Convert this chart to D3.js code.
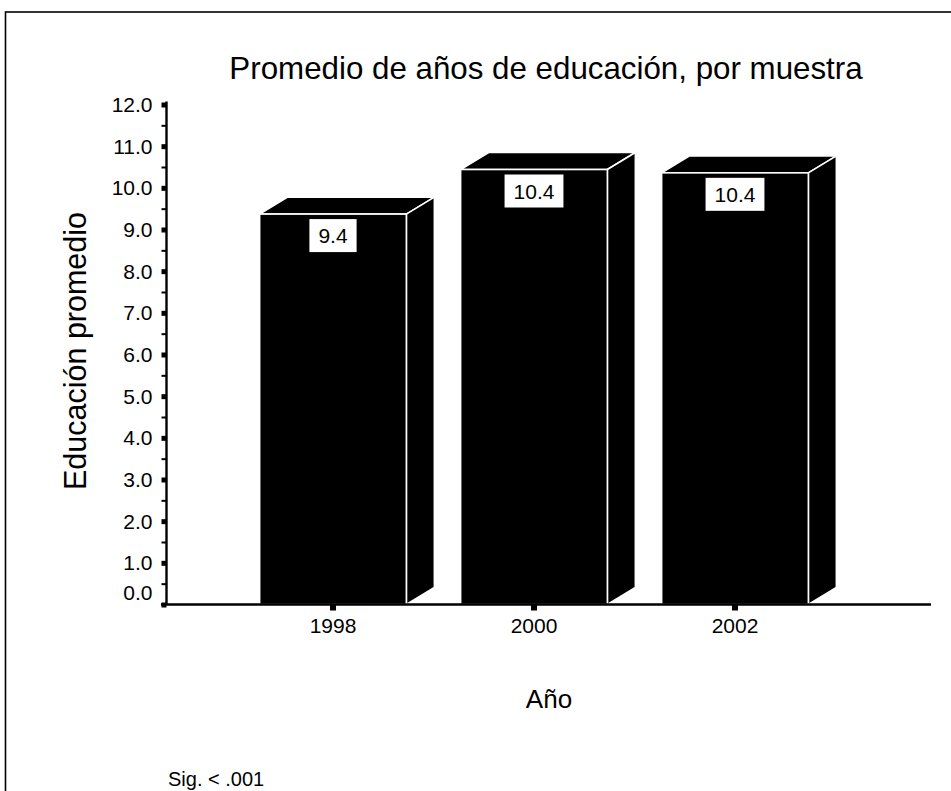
<!DOCTYPE html>
<html>
<head>
<meta charset="utf-8">
<script src="https://cdn.jsdelivr.net/npm/d3@7"></script>
<style>
  html, body { margin: 0; padding: 0; background: #fff; overflow: hidden; }
  svg { display: block; font-family: "Liberation Sans", Arial, Helvetica, sans-serif; }
</style>
</head>
<body>
<svg id="chart" width="951" height="791"></svg>
<script>
// ---- data ----
const years = ["1998", "2000", "2002"];
const meanEducation = [9.37, 10.44, 10.36];
const yTicks = [0, 1, 2, 3, 4, 5, 6, 7, 8, 9, 10, 11, 12];
const yMinorTicks = [0.5, 1.5, 2.5, 3.5, 4.5, 5.5, 6.5, 7.5, 8.5, 9.5, 10.5, 11.5];
const titleText = "Promedio de años de educación, por muestra";
const yTitle = "Educación promedio";
const xTitle = "Año";
const noteText = "Sig. < .001";

const svg = d3.select("#chart");

// frame
svg.append("rect").attr("x", 5.5).attr("y", 12).attr("width", 980).attr("height", 820)
  .attr("fill", "none").attr("stroke", "#000").attr("stroke-width", 1.6);

const y = d3.scaleLinear().domain([0, 12]).range([604.5, 104.5]);
const x = d3.scaleBand().domain(years).range([232.5, 835.5]).padding(0);
const barW = x.bandwidth() * 0.73;
const dx = 28, dy = -17;
const axisX = 166.5;

// title
svg.append("text").attr("x", 546).attr("y", 79).attr("text-anchor", "middle")
  .attr("font-size", 31.3).text(titleText);

// bars
const bars = svg.append("g");
years.forEach((yr, i) => {
  const v = meanEducation[i];
  const cx = x(yr) + x.bandwidth() / 2;
  const x0 = cx - barW / 2, x1 = cx + barW / 2;
  const yT = y(v), y0 = y(0);
  const g = bars.append("g");
  const style = s => s.attr("fill", "#000").attr("stroke", "#fff").attr("stroke-width", 1.6).attr("stroke-linejoin", "miter");
  style(g.append("polygon").attr("points", [[x0, yT], [x0 + dx, yT + dy], [x1 + dx, yT + dy], [x1, yT]].map(p => p.join(",")).join(" ")));
  style(g.append("polygon").attr("points", [[x1, yT], [x1 + dx, yT + dy], [x1 + dx, y0 + dy], [x1, y0]].map(p => p.join(",")).join(" ")));
  style(g.append("rect").attr("x", x0).attr("y", yT).attr("width", barW).attr("height", y0 - yT));
  // value label
  const lbl = d3.format(".1f")(v);
  const t = g.append("text").attr("x", cx).attr("y", yT + 29).attr("text-anchor", "middle")
    .attr("font-size", 21).text(lbl);
  const tw = t.node().getComputedTextLength();
  g.insert("rect", "text").attr("x", cx - tw / 2 - 9).attr("y", yT + 5).attr("width", tw + 18).attr("height", 33)
    .attr("fill", "#fff");
});

// y axis
const yAxisG = svg.append("g").attr("transform", `translate(${axisX},0)`)
  .call(d3.axisLeft(y).tickValues(yTicks).tickFormat(d3.format(".1f")).tickSize(5).tickSizeOuter(0).tickPadding(9));
yAxisG.select(".domain").attr("stroke-width", 2.4).attr("d", `M0,${y(0)}V${y(12) - 3}`);
yAxisG.selectAll(".tick line").attr("stroke-width", 5);
yAxisG.selectAll(".tick text").attr("font-size", 21).attr("font-family", "Liberation Sans, Arial, sans-serif")
  .attr("dy", d => d === 0 ? "-0.22em" : "0.34em");
const yMinor = svg.append("g").attr("transform", `translate(${axisX},0)`)
  .call(d3.axisLeft(y).tickValues(yMinorTicks).tickFormat("").tickSize(5).tickSizeOuter(0));
yMinor.select(".domain").remove();
yMinor.selectAll(".tick line").attr("stroke-width", 2);

// x axis
const xAxisG = svg.append("g").attr("transform", `translate(0,${y(0)})`)
  .call(d3.axisBottom(x).tickSize(6).tickSizeOuter(0).tickPadding(8));
xAxisG.select(".domain").attr("stroke-width", 2.4).attr("d", `M161,0H931`);
xAxisG.selectAll(".tick line").attr("stroke-width", 6);
xAxisG.selectAll(".tick text").attr("font-size", 21).attr("font-family", "Liberation Sans, Arial, sans-serif");

// axis titles
svg.append("text").attr("transform", "translate(86,351) rotate(-90)").attr("text-anchor", "middle")
  .attr("font-size", 30.5).text(yTitle);
svg.append("text").attr("x", 549).attr("y", 708).attr("text-anchor", "middle")
  .attr("font-size", 26).text(xTitle);
svg.append("text").attr("x", 168).attr("y", 786).attr("font-size", 20).text(noteText);
</script>
</body>
</html>
